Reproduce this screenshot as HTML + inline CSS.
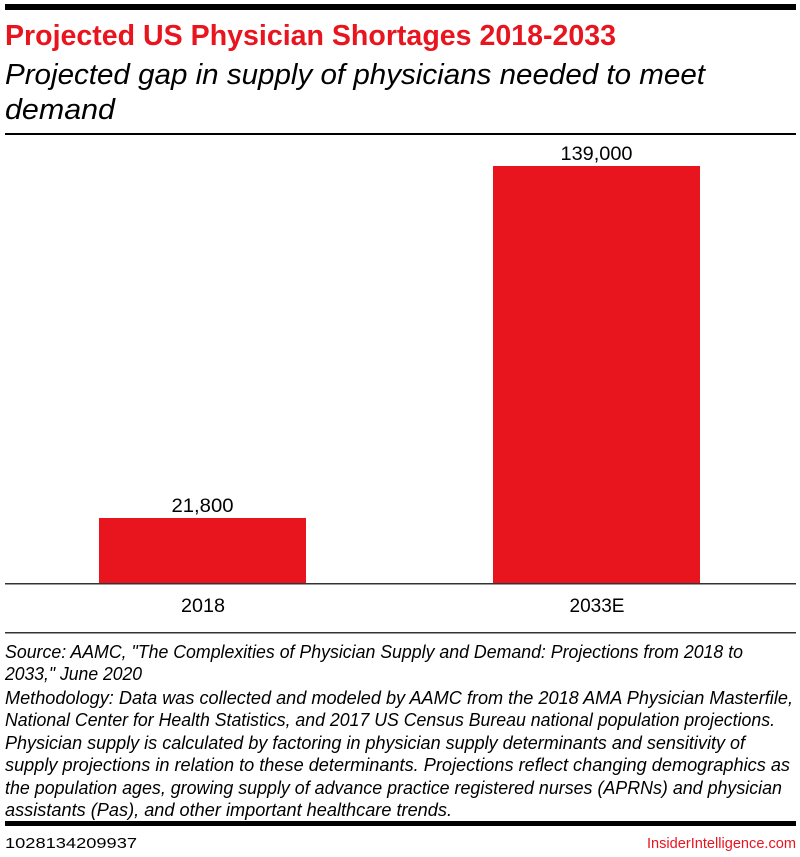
<!DOCTYPE html>
<html><head><meta charset="utf-8"><style>
html,body{margin:0;padding:0;background:#fff;}
svg{display:block;font-family:"Liberation Sans",sans-serif;}
</style></head><body>
<svg width="800" height="857" viewBox="0 0 800 857">
<rect x="5" y="4" width="791" height="6" fill="#000"/>
<text x="5" y="45" font-size="29" font-weight="bold" fill="#e8141e" textLength="611" lengthAdjust="spacingAndGlyphs">Projected US Physician Shortages 2018-2033</text>
<text x="5" y="84" font-size="29" font-style="italic" fill="#000" textLength="700" lengthAdjust="spacingAndGlyphs">Projected gap in supply of physicians needed to meet</text>
<text x="5" y="119" font-size="29" font-style="italic" fill="#000" textLength="110" lengthAdjust="spacingAndGlyphs">demand</text>
<rect x="5" y="133" width="791" height="2" fill="#000"/>
<rect x="99" y="518" width="207" height="66" fill="#e8141e"/>
<rect x="493" y="166" width="207" height="418" fill="#e8141e"/>
<text x="202.5" y="512" font-size="19" text-anchor="middle" textLength="62" lengthAdjust="spacingAndGlyphs">21,800</text>
<text x="596.5" y="160" font-size="19" text-anchor="middle" textLength="72" lengthAdjust="spacingAndGlyphs">139,000</text>
<rect x="5" y="583" width="791" height="1.5" fill="#333"/>
<text x="203" y="612" font-size="19" text-anchor="middle" textLength="44" lengthAdjust="spacingAndGlyphs">2018</text>
<text x="597" y="612" font-size="19" text-anchor="middle" textLength="55" lengthAdjust="spacingAndGlyphs">2033E</text>
<rect x="5" y="632" width="791" height="1.5" fill="#333"/>
<g font-size="18" font-style="italic" fill="#000">
<text x="5" y="658" textLength="738" lengthAdjust="spacingAndGlyphs">Source: AAMC, "The Complexities of Physician Supply and Demand: Projections from 2018 to</text>
<text x="5" y="680" textLength="137" lengthAdjust="spacingAndGlyphs">2033," June 2020</text>
<text x="5" y="704" textLength="788" lengthAdjust="spacingAndGlyphs">Methodology: Data was collected and modeled by AAMC from the 2018 AMA Physician Masterfile,</text>
<text x="5" y="726" textLength="770" lengthAdjust="spacingAndGlyphs">National Center for Health Statistics, and 2017 US Census Bureau national population projections.</text>
<text x="5" y="749" textLength="740" lengthAdjust="spacingAndGlyphs">Physician supply is calculated by factoring in physician supply determinants and sensitivity of</text>
<text x="5" y="771" textLength="785" lengthAdjust="spacingAndGlyphs">supply projections in relation to these determinants. Projections reflect changing demographics as</text>
<text x="5" y="794" textLength="777" lengthAdjust="spacingAndGlyphs">the population ages, growing supply of advance practice registered nurses (APRNs) and physician</text>
<text x="5" y="816" textLength="447" lengthAdjust="spacingAndGlyphs">assistants (Pas), and other important healthcare trends.</text>
</g>
<rect x="5" y="821" width="791" height="5" fill="#000"/>
<text x="5" y="848" font-size="15" textLength="132" lengthAdjust="spacingAndGlyphs">1028134209937</text>
<text x="796" y="848" font-size="15" fill="#e8141e" text-anchor="end" textLength="149" lengthAdjust="spacingAndGlyphs">InsiderIntelligence.com</text>
</svg>
</body></html>
